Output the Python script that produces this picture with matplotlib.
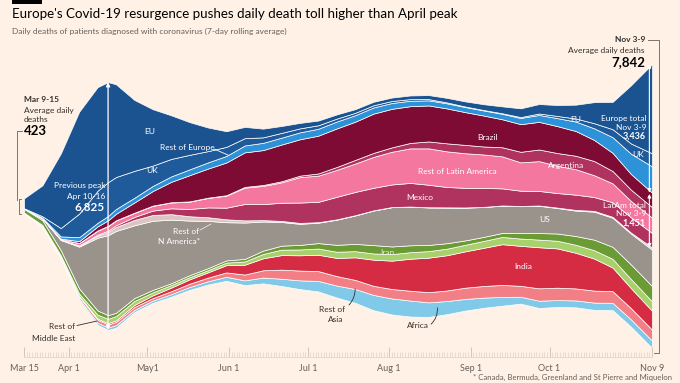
import matplotlib.pyplot as plt
import matplotlib.dates as mdates
from matplotlib.lines import Line2D
from matplotlib.patches import Rectangle, FancyArrowPatch
import numpy as np
import pandas as pd

plt.rcParams['font.family'] = ['Lato', 'DejaVu Sans']

W, H = 680, 383
BG = "#fff1e5"

# weekly samples of the 7-day rolling average, Mar 15 .. Nov 9 (plus the Apr 16 peak)
weeks = list(pd.date_range("2020-03-15", periods=34, freq="7D")) + [pd.Timestamp("2020-11-09")]
weeks.insert(5, pd.Timestamp("2020-04-16"))
weeks = pd.DatetimeIndex(weeks)

eu = [270, 850, 2050, 2800, 2850, 2750, 2550, 1950, 1550, 1200, 900, 650, 430, 310, 240, 190, 150, 130, 115,
      100, 95, 95, 100, 110, 125, 140, 160, 190, 240, 260, 300, 380, 580, 750, 1600, 2450]
uk = [5, 40, 230, 650, 880, 930, 880, 740, 560, 480, 400, 310, 250, 200, 150, 130, 110, 95, 80,
      65, 60, 55, 45, 35, 25, 15, 12, 15, 25, 40, 60, 85, 140, 220, 280, 360]
rest_europe = [3, 15, 60, 110, 100, 120, 130, 130, 140, 150, 160, 170, 180, 190, 200, 190, 190, 190, 190,
               180, 170, 160, 150, 140, 140, 140, 140, 150, 170, 190, 220, 260, 320, 430, 560, 720]
brazil = [0, 2, 15, 50, 110, 150, 180, 280, 400, 560, 720, 800, 900, 950, 960, 1010, 1000, 1040, 1060,
          1050, 1080, 1060, 1010, 990, 960, 900, 850, 770, 760, 760, 740, 680, 580, 500, 430, 400]
argentina = [0, 0, 2, 5, 7, 8, 8, 8, 8, 8, 9, 8, 12, 20, 25, 30, 40, 60, 80,
             100, 110, 120, 150, 190, 220, 230, 220, 250, 290, 320, 350, 370, 390, 340, 310, 290]
rest_latam = [0, 2, 15, 60, 110, 125, 130, 110, 130, 160, 200, 260, 330, 450, 500, 560, 700, 720, 740,
              780, 850, 900, 950, 1000, 980, 950, 920, 880, 780, 820, 750, 700, 600, 520, 450, 420]
mexico = [0, 0, 2, 10, 25, 35, 45, 80, 120, 160, 200, 270, 320, 450, 440, 500, 560, 560, 620,
          640, 620, 620, 650, 620, 560, 540, 520, 470, 420, 400, 400, 420, 380, 400, 420, 400]
rest_namerica = [0, 1, 5, 25, 60, 90, 110, 150, 160, 150, 120, 100, 80, 60, 40, 30, 25, 15, 10,
                 8, 6, 5, 5, 5, 5, 5, 5, 5, 6, 8, 12, 18, 22, 25, 28, 60]
us = [10, 50, 280, 1150, 2000, 2200, 2250, 2000, 1900, 1750, 1500, 1300, 1050, 1000, 800, 650, 580, 560, 690,
      780, 950, 1080, 1060, 1030, 980, 900, 820, 750, 740, 750, 700, 700, 770, 800, 850, 1000]
iran = [100, 130, 140, 140, 115, 100, 90, 80, 70, 50, 55, 55, 60, 70, 90, 110, 125, 150, 190,
        200, 230, 210, 190, 170, 150, 120, 110, 110, 150, 180, 200, 240, 290, 330, 400, 420]
rest_mideast = [10, 20, 40, 70, 110, 120, 120, 110, 80, 70, 60, 60, 70, 90, 120, 150, 160, 170, 170,
                170, 170, 180, 180, 180, 180, 180, 190, 200, 200, 210, 210, 220, 230, 240, 250, 260]
india = [0, 1, 4, 15, 30, 35, 40, 55, 75, 100, 120, 145, 200, 270, 330, 400, 420, 450, 500,
         620, 720, 780, 880, 950, 970, 1000, 1050, 1120, 1100, 1130, 1080, 980, 880, 650, 550, 520]
rest_asia = [20, 20, 30, 60, 80, 85, 90, 80, 70, 80, 90, 100, 120, 160, 200, 250, 270, 270, 260,
             250, 250, 260, 270, 280, 290, 310, 320, 330, 300, 340, 340, 330, 330, 320, 310, 300]
africa = [2, 5, 15, 40, 60, 65, 70, 60, 60, 70, 80, 90, 110, 130, 160, 200, 240, 290, 330,
          380, 420, 440, 440, 400, 360, 320, 280, 240, 190, 200, 190, 190, 200, 200, 200, 200]

# bottom to top
layers = [africa, rest_asia, india, rest_mideast, iran, us, rest_namerica, mexico,
          rest_latam, argentina, brazil, rest_europe, uk, eu]
colors = ["#80c9e8", "#f27f86", "#d62c43", "#a8d06c", "#6b9b35", "#9a938c", "#dcc6c2", "#b0335f",
          "#f4779f", "#b0335f", "#7d0b33", "#2d92d8", "#1f5a9a", "#1b5391"]

tick_dates = ["2020-03-15", "2020-04-01", "2020-05-01", "2020-06-01", "2020-07-01",
              "2020-08-01", "2020-09-01", "2020-10-01", "2020-11-09"]
tick_labels = ["Mar 15", "Apr 1", "May1", "Jun 1", "Jul 1", "Aug 1", "Sep 1", "Oct 1", "Nov 9"]

fig = plt.figure(figsize=(6.8, 3.83), dpi=100, facecolor=BG)
ax = fig.add_axes([24 / W, 1 - 357 / H, 628 / W, 317 / H])
ax.set_facecolor(BG)
ax.stackplot(weeks, *layers, colors=colors, baseline="sym", edgecolor="white", linewidth=0.5)
ax.set_xlim(pd.Timestamp("2020-03-15"), pd.Timestamp("2020-11-09"))
ax.set_ylim(-4152, 4565)

ax.set_xticks(pd.to_datetime(tick_dates))
ax.set_xticklabels(tick_labels)
ax.xaxis.set_minor_locator(mdates.DayLocator())
ax.tick_params(axis="x", which="major", direction="in", length=7, width=0.7, color="#d2c7bd",
               labelsize=6.5, labelcolor="#66605c", pad=5)
ax.tick_params(axis="x", which="minor", direction="in", length=3.5, width=0.5, color="#ddd2c8")
ax.set_yticks([])
for s in ["top", "left", "right"]:
    ax.spines[s].set_visible(False)
ax.spines["bottom"].set_color("#ddd2c8")
ax.spines["bottom"].set_linewidth(0.5)

total = np.sum(layers, axis=0)

# peak arrow (Apr 10-16)
pk = 5
ax.annotate("", xy=(weeks[pk], total[pk] / 2), xytext=(weeks[pk], -total[pk] / 2),
            arrowprops=dict(arrowstyle="<|-|>", color="white", lw=0.9, mutation_scale=6,
                            shrinkA=0, shrinkB=0))

# end arrows: Europe and Latin America totals
end = weeks[-1] - pd.Timedelta(days=1)
top_end = total[-1] / 2
europe_end = eu[-1] + uk[-1] + rest_europe[-1]
latam_end = brazil[-1] + argentina[-1] + rest_latam[-1] + mexico[-1]
ax.annotate("", xy=(end, top_end), xytext=(end, top_end - europe_end),
            arrowprops=dict(arrowstyle="<|-|>", color="white", lw=0.8, mutation_scale=5,
                            shrinkA=0, shrinkB=0))
ax.annotate("", xy=(end, top_end - europe_end - 40), xytext=(end, top_end - europe_end - latam_end),
            arrowprops=dict(arrowstyle="<|-|>", color="white", lw=0.8, mutation_scale=5,
                            shrinkA=0, shrinkB=0))


def ftxt(x, y, s, **kw):
    kw.setdefault("va", "center")
    kw.setdefault("fontsize", 6)
    fig.text(x / W, 1 - y / H, s, **kw)


def fline(xs, ys, **kw):
    fig.add_artist(Line2D([x / W for x in xs], [1 - y / H for y in ys],
                          transform=fig.transFigure, **kw))


def fcurve(p0, p1, rad):
    fig.add_artist(FancyArrowPatch((p0[0] / W, 1 - p0[1] / H), (p1[0] / W, 1 - p1[1] / H),
                                   transform=fig.transFigure, arrowstyle="-",
                                   connectionstyle=f"arc3,rad={rad}", color="#33302e", lw=0.6))


# header
fig.add_artist(Rectangle((12 / W, 1 - 4 / H), 30 / W, 4 / H, transform=fig.transFigure,
                         color="black", lw=0))
ftxt(12, 14.5, "Europe's Covid-19 resurgence pushes daily death toll higher than April peak",
     fontsize=9.6, color="#000000")
ftxt(12, 31, "Daily deaths of patients diagnosed with coronavirus (7-day rolling average)",
     fontsize=6.0, color="#66605c")

# left annotation
ftxt(24, 100, "Mar 9-15", fontweight="bold", color="#33302e")
ftxt(24, 110, "Average daily", color="#33302e")
ftxt(24, 120, "deaths", color="#33302e")
ftxt(24, 131, "423", fontsize=9.5, fontweight="bold", color="#000000")
fline([22, 17, 17], [131, 131, 200], color="#66605c", lw=0.6)
fline([21, 18.5, 18.5, 21], [199, 199, 214, 214], color="#66605c", lw=0.6)

# peak text
ftxt(105, 185, "Previous peak", ha="right", color="white")
ftxt(105, 196, "Apr 10-16", ha="right", color="white")
ftxt(105, 207, "6,825", ha="right", fontsize=8.5, fontweight="bold", color="white")

# right annotation
ftxt(645, 40, "Nov 3-9", ha="right", fontweight="bold", color="#33302e")
ftxt(645, 50.5, "Average daily deaths", ha="right", color="#33302e")
ftxt(645, 62, "7,842", ha="right", fontsize=9.5, fontweight="bold", color="#000000")
fline([648, 659, 659, 654], [40, 40, 353, 353], color="#66605c", lw=0.6)

ftxt(646, 118.5, "Europe total", ha="right", color="white")
ftxt(646, 127.5, "Nov 3-9", ha="right", color="white")
ftxt(646, 136.5, "3,436", ha="right", fontweight="bold", fontsize=6.5, color="white")
ftxt(646, 206, "LatAm total", ha="right", color="white")
ftxt(646, 214, "Nov 3-9", ha="right", color="white")
ftxt(646, 223, "1,451", ha="right", fontweight="bold", fontsize=6.5, color="white")

# stream labels
ftxt(150, 131, "EU", ha="center", color="white")
ftxt(160, 148, "Rest of Europe", color="white")
fline([214, 228], [149, 155], color="white", lw=0.6)
ftxt(152, 170.5, "UK", ha="center", color="white")
ftxt(576, 119.5, "EU", ha="center", color="white")
ftxt(638, 154.5, "UK", ha="center", color="white")
ftxt(487, 137.5, "Brazil", ha="center", color="white")
ftxt(566, 166, "Argentina", ha="center", color="white")
ftxt(457, 171.5, "Rest of Latin America", ha="center", color="white")
ftxt(420, 197, "Mexico", ha="center", color="white")
ftxt(199, 232, "Rest of", ha="right", color="white")
ftxt(200, 241, "N America*", ha="right", color="white")
fline([200, 211], [230, 224], color="#eee4dc", lw=0.6)
ftxt(545, 219.5, "US", ha="center", color="white")
ftxt(387, 252.5, "Iran", ha="center", color="#e4f2cc")
ftxt(523, 266.5, "India", ha="center", color="white")

# outside labels
ftxt(345, 310, "Rest of", ha="right", color="#33302e")
ftxt(343, 319.5, "Asia", ha="right", color="#33302e")
fcurve((347, 307), (355, 286), 0.25)
ftxt(418, 325.5, "Africa", ha="center", color="#33302e")
fcurve((429, 326), (437, 305), 0.3)
ftxt(75, 326.5, "Rest of", ha="right", color="#33302e")
ftxt(75, 338.5, "Middle East", ha="right", color="#33302e")
fline([77, 97], [325.5, 321], color="#33302e", lw=0.6)

ftxt(672, 377.5, "* Canada, Bermuda, Greenland and St Pierre and Miquelon", ha="right",
     fontsize=5.6, color="#66605c")

fig.savefig("out.png", dpi=100, facecolor=BG)
